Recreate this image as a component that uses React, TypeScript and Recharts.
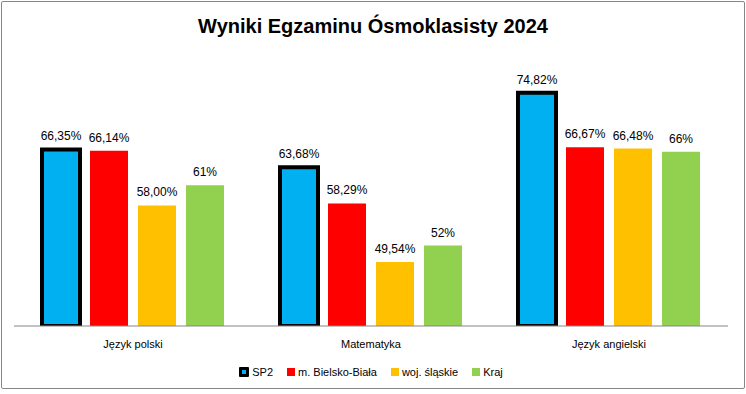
import React from "react";
import { BarChart, Bar, XAxis, YAxis, Legend, LabelList } from "recharts";

const categories = ["Język polski", "Matematyka", "Język angielski"];
const sp2 = [66.35, 63.68, 74.82];
const bielsko = [66.14, 58.29, 66.67];
const slaskie = [58.0, 49.54, 66.48];
const kraj = [61, 52, 66];
const sp2Labels = ["66,35%", "63,68%", "74,82%"];
const bielskoLabels = ["66,14%", "58,29%", "66,67%"];
const slaskieLabels = ["58,00%", "49,54%", "66,48%"];
const krajLabels = ["61%", "52%", "66%"];

const data = categories.map((c, i) => ({
  name: c,
  sp2: sp2[i],
  bielsko: bielsko[i],
  slaskie: slaskie[i],
  kraj: kraj[i],
  sp2L: sp2Labels[i],
  bielskoL: bielskoLabels[i],
  slaskieL: slaskieLabels[i],
  krajL: krajLabels[i],
}));

const FONT = "'Liberation Sans', Arial, sans-serif";

const legendItems = [
  { label: "SP2", color: "#00B0F0", border: true },
  { label: "m. Bielsko-Biała", color: "#FF0000" },
  { label: "woj. śląskie", color: "#FFC000" },
  { label: "Kraj", color: "#92D050" },
];

const LegendContent = () => (
  <div
    style={{
      display: "flex",
      justifyContent: "center",
      alignItems: "center",
      fontFamily: FONT,
      fontSize: 11,
      color: "#000",
      gap: 14,
    }}
  >
    {legendItems.map((it) => (
      <div key={it.label} style={{ display: "flex", alignItems: "center" }}>
        <span
          style={{
            display: "inline-block",
            width: it.border ? 4 : 8,
            height: it.border ? 4 : 8,
            background: it.color,
            border: it.border ? "3px solid #000" : "none",
            borderRadius: it.border ? 1 : 0,
            marginRight: 3,
          }}
        />
        <span>{it.label}</span>
      </div>
    ))}
  </div>
);

const labelStyle = { fontFamily: FONT, fontSize: 12, fill: "#000" };

export default function App() {
  return (
    <div
      style={{
        position: "absolute",
        left: 0,
        top: 0,
        width: 746,
        height: 394,
        background: "#fff",
      }}
    >
      <div
        style={{
          position: "absolute",
          left: 1,
          top: 1,
          width: 742,
          height: 386,
          border: "1px solid #868686",
          borderRadius: 2,
        }}
      />
      <div
        style={{
          position: "absolute",
          left: 0,
          top: 15,
          width: 746,
          textAlign: "center",
          fontFamily: FONT,
          fontWeight: "bold",
          fontSize: 20,
          color: "#000",
        }}
      >
        Wyniki Egzaminu Ósmoklasisty 2024
      </div>
      <div style={{ position: "absolute", left: 0, top: 0 }}>
        <BarChart
          width={746}
          height={394}
          data={data}
          margin={{ top: 58, right: 18, left: 14, bottom: 0 }}
          barGap={10}
          barSize={38}
        >
          <YAxis hide domain={[40, 80]} allowDataOverflow />
          <XAxis
            dataKey="name"
            axisLine={{ stroke: "#868686" }}
            tickLine={false}
            tick={{ fontFamily: FONT, fontSize: 11, fill: "#000" }}
            tickMargin={8}
            height={40}
          />
          <Legend verticalAlign="bottom" height={28} content={<LegendContent />} />
          <Bar dataKey="sp2" fill="#00B0F0" stroke="#000" strokeWidth={4} isAnimationActive={false}>
            <LabelList dataKey="sp2L" position="top" offset={9} style={labelStyle} />
          </Bar>
          <Bar dataKey="bielsko" fill="#FF0000" isAnimationActive={false}>
            <LabelList dataKey="bielskoL" position="top" offset={9} style={labelStyle} />
          </Bar>
          <Bar dataKey="slaskie" fill="#FFC000" isAnimationActive={false}>
            <LabelList dataKey="slaskieL" position="top" offset={9} style={labelStyle} />
          </Bar>
          <Bar dataKey="kraj" fill="#92D050" isAnimationActive={false}>
            <LabelList dataKey="krajL" position="top" offset={9} style={labelStyle} />
          </Bar>
        </BarChart>
      </div>
    </div>
  );
}
